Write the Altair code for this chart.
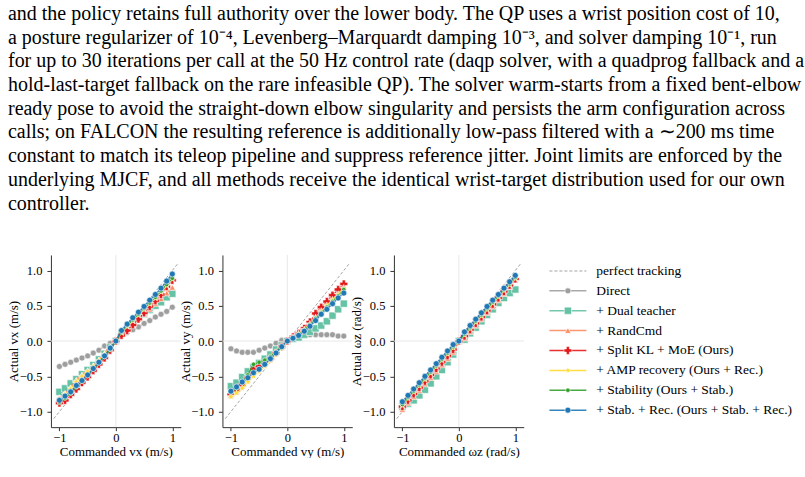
import altair as alt
import pandas as pd

# ---------------- data ----------------
CMD = [round(-1 + 0.1 * i, 1) for i in range(21)]

SERIES = [
    "Direct",
    "+ Dual teacher",
    "+ RandCmd",
    "+ Split KL + MoE (Ours)",
    "+ AMP recovery (Ours + Rec.)",
    "+ Stability (Ours + Stab.)",
    "+ Stab. + Rec. (Ours + Stab. + Rec.)",
]
COLORS = ["#9e9e9e", "#66c2a5", "#fc8d62", "#e31a1c", "#ffd92f", "#33a02c", "#1f78b4"]

STAR = "M0,-1L0.235,-0.324L0.951,-0.309L0.380,0.124L0.588,0.809L0,0.4L-0.588,0.809L-0.380,0.124L-0.951,-0.309L-0.235,-0.324Z"
SHAPES = ["circle", "square", "triangle-up", "cross", STAR, "circle", "circle"]
SIZES = [36, 52, 40, 62, 55, 20, 36]

# Panel 1: commanded vx -> actual vx
VX = [
    [-0.36, -0.33, -0.30, -0.27, -0.24, -0.21, -0.17, -0.13, -0.07, -0.03, 0.0, 0.08, 0.12, 0.16, 0.20, 0.25, 0.29, 0.34, 0.38, 0.42, 0.48],
    [-0.72, -0.67, -0.60, -0.54, -0.47, -0.41, -0.34, -0.26, -0.18, -0.09, 0.0, 0.11, 0.18, 0.25, 0.32, 0.38, 0.44, 0.50, 0.55, 0.62, 0.67],
    [-0.80, -0.74, -0.66, -0.55, -0.48, -0.42, -0.35, -0.27, -0.18, -0.09, 0.0, 0.10, 0.17, 0.24, 0.31, 0.38, 0.45, 0.53, 0.60, 0.68, 0.76],
    [-0.88, -0.84, -0.76, -0.68, -0.59, -0.51, -0.42, -0.33, -0.24, -0.13, 0.0, 0.08, 0.15, 0.23, 0.31, 0.40, 0.49, 0.57, 0.66, 0.77, 0.86],
    [-0.82, -0.76, -0.68, -0.58, -0.50, -0.43, -0.36, -0.28, -0.19, -0.10, 0.0, 0.12, 0.21, 0.29, 0.37, 0.45, 0.53, 0.61, 0.70, 0.79, 0.88],
    [-0.87, -0.81, -0.74, -0.65, -0.57, -0.49, -0.40, -0.31, -0.22, -0.12, 0.0, 0.13, 0.22, 0.30, 0.38, 0.46, 0.54, 0.62, 0.71, 0.80, 0.89],
    [-0.84, -0.78, -0.72, -0.63, -0.56, -0.48, -0.39, -0.30, -0.21, -0.10, 0.0, 0.15, 0.24, 0.33, 0.41, 0.49, 0.58, 0.66, 0.75, 0.85, 0.95],
]

# Panel 2: commanded vy -> actual vy
VY = [
    [-0.11, -0.14, -0.16, -0.16, -0.16, -0.13, -0.10, -0.07, -0.03, 0.01, 0.0, 0.03, 0.06, 0.08, 0.09, 0.09, 0.09, 0.09, 0.09, 0.07, 0.07],
    [-0.64, -0.59, -0.51, -0.43, -0.37, -0.31, -0.25, -0.19, -0.12, -0.06, 0.0, 0.03, 0.05, 0.09, 0.13, 0.18, 0.22, 0.28, 0.36, 0.45, 0.53],
    [-0.77, -0.72, -0.64, -0.55, -0.42, -0.38, -0.32, -0.26, -0.18, -0.09, 0.0, 0.05, 0.10, 0.17, 0.25, 0.34, 0.43, 0.51, 0.60, 0.68, 0.77],
    [-0.76, -0.70, -0.62, -0.52, -0.40, -0.36, -0.31, -0.25, -0.17, -0.08, 0.0, 0.06, 0.11, 0.18, 0.27, 0.39, 0.48, 0.56, 0.65, 0.73, 0.81],
    [-0.79, -0.74, -0.67, -0.58, -0.50, -0.43, -0.36, -0.28, -0.19, -0.10, 0.0, 0.05, 0.10, 0.16, 0.24, 0.33, 0.42, 0.50, 0.58, 0.66, 0.75],
    [-0.73, -0.66, -0.58, -0.48, -0.33, -0.30, -0.27, -0.22, -0.15, -0.07, 0.0, 0.05, 0.09, 0.15, 0.23, 0.32, 0.40, 0.48, 0.56, 0.64, 0.73],
    [-0.71, -0.65, -0.58, -0.52, -0.45, -0.40, -0.33, -0.25, -0.17, -0.08, 0.0, 0.04, 0.08, 0.14, 0.21, 0.29, 0.38, 0.45, 0.53, 0.61, 0.68],
]

# Panel 3: commanded wz -> actual wz
WZ = [
    [-0.86, -0.77, -0.68, -0.59, -0.50, -0.41, -0.32, -0.23, -0.14, -0.05, 0.0, 0.13, 0.22, 0.31, 0.40, 0.49, 0.58, 0.66, 0.75, 0.84, 0.93],
    [-0.93, -0.89, -0.84, -0.77, -0.69, -0.60, -0.50, -0.41, -0.30, -0.19, 0.0, 0.02, 0.11, 0.19, 0.28, 0.37, 0.45, 0.54, 0.61, 0.68, 0.73],
    [-0.97, -0.88, -0.79, -0.70, -0.61, -0.52, -0.43, -0.34, -0.25, -0.16, 0.0, 0.04, 0.13, 0.22, 0.31, 0.40, 0.49, 0.58, 0.67, 0.77, 0.86],
    [-0.93, -0.84, -0.75, -0.66, -0.57, -0.48, -0.39, -0.30, -0.21, -0.12, 0.0, 0.07, 0.16, 0.25, 0.34, 0.43, 0.52, 0.61, 0.70, 0.79, 0.88],
    [-0.91, -0.81, -0.72, -0.63, -0.54, -0.45, -0.36, -0.27, -0.18, -0.09, 0.0, 0.09, 0.18, 0.27, 0.36, 0.45, 0.54, 0.63, 0.72, 0.80, 0.89],
    [-0.90, -0.80, -0.71, -0.62, -0.53, -0.44, -0.35, -0.26, -0.17, -0.08, 0.0, 0.10, 0.19, 0.28, 0.37, 0.46, 0.55, 0.64, 0.73, 0.81, 0.90],
    [-0.86, -0.77, -0.68, -0.59, -0.50, -0.41, -0.32, -0.23, -0.14, -0.05, 0.0, 0.13, 0.22, 0.31, 0.40, 0.49, 0.58, 0.66, 0.75, 0.84, 0.93],
]

DIAG = [-1.1, 1.1]
X_TICKS = [-1, 0, 1]
Y_TICKS = [-1.0, -0.5, 0.0, 0.5, 1.0]

PARAGRAPH = [
    "and the policy retains full authority over the lower body.  The QP uses a wrist position cost of 10,",
    "a posture regularizer of 10\u207b\u2074, Levenberg\u2013Marquardt damping 10\u207b\u00b3, and solver damping 10\u207b\u00b9, run",
    "for up to 30 iterations per call at the 50 Hz control rate (daqp solver, with a quadprog fallback and a",
    "hold-last-target fallback on the rare infeasible QP). The solver warm-starts from a fixed bent-elbow",
    "ready pose to avoid the straight-down elbow singularity and persists the arm configuration across",
    "calls; on FALCON the resulting reference is additionally low-pass filtered with a \u223c200 ms time",
    "constant to match its teleop pipeline and suppress reference jitter.  Joint limits are enforced by the",
    "underlying MJCF, and all methods receive the identical wrist-target distribution used for our own",
    "controller.",
]

FONT = "Liberation Serif"
W, H = 130, 172.4


def panel(series_vals, xtitle, ytitle):
    rows = []
    for s, vals in zip(SERIES, series_vals):
        for c, a in zip(CMD, vals):
            rows.append({"cmd": c, "series": s, "actual": a})
    df = pd.DataFrame(rows)
    xs = alt.Scale(domain=[-1.15, 1.15], nice=False, zero=False)
    ys = alt.Scale(domain=[-1.22, 1.22], nice=False, zero=False)
    xax = alt.Axis(values=X_TICKS, format="d", title=xtitle, grid=False,
                   tickSize=3.5, labelPadding=1, titlePadding=1)
    yax = alt.Axis(values=Y_TICKS, format=".1f", title=ytitle, grid=False,
                   tickSize=4, labelPadding=5, titleX=-30, titleY=H / 2)

    zdf = pd.DataFrame({"z": [0.0]})
    layers = [
        alt.Chart(zdf).mark_rule(color="#e8e8e8", strokeWidth=1).encode(
            x=alt.X("z:Q", scale=xs, axis=xax)),
        alt.Chart(zdf).mark_rule(color="#e8e8e8", strokeWidth=1).encode(
            y=alt.Y("z:Q", scale=ys, axis=yax)),
        alt.Chart(pd.DataFrame({"d": DIAG})).mark_line(
            color="#8c8c8c", strokeDash=[3, 2], strokeWidth=0.8).encode(
            x=alt.X("d:Q", scale=xs, axis=xax), y=alt.Y("d:Q", scale=ys, axis=yax)),
    ]
    for s, c, shp, sz in zip(SERIES, COLORS, SHAPES, SIZES):
        b = alt.Chart(df).transform_filter(alt.datum.series == s)
        enc = dict(x=alt.X("cmd:Q", scale=xs, axis=xax),
                   y=alt.Y("actual:Q", scale=ys, axis=yax))
        layers.append(b.mark_line(color=c, strokeWidth=1.5, opacity=0.9).encode(**enc))
        layers.append(b.mark_point(filled=True, shape=shp, size=sz, color=c, opacity=1,
                                   stroke="white", strokeWidth=0.6).encode(**enc))
    return alt.layer(*layers).properties(width=W, height=H)


p1 = panel(VX, "Commanded vx (m/s)", "Actual vx (m/s)")
p2 = panel(VY, "Commanded vy (m/s)", "Actual vy (m/s)")
p3 = panel(WZ, "Commanded \u03c9z (rad/s)", "Actual \u03c9z (rad/s)")

# ---------------- legend (manual) ----------------
LEG_LABELS = ["perfect tracking"] + SERIES
leg_df = pd.DataFrame({"row": list(range(len(LEG_LABELS))), "label": LEG_LABELS})
ly = alt.Y("row:Q", scale=alt.Scale(domain=[-0.806, 7.856], reverse=True, nice=False, zero=False),
           axis=None)
leg_layers = [
    alt.Chart(leg_df).transform_filter("datum.row == 0").mark_rule(
        color="#8c8c8c", strokeDash=[3, 2], strokeWidth=0.8).encode(
        x=alt.value(-16), x2=alt.value(21), y=ly)
]
for i, (s, c, shp, sz) in enumerate(zip(SERIES, COLORS, SHAPES, SIZES)):
    b = alt.Chart(leg_df).transform_filter(f"datum.row == {i + 1}")
    leg_layers.append(b.mark_rule(color=c, strokeWidth=1.5, opacity=0.9).encode(
        x=alt.value(-16), x2=alt.value(21), y=ly))
    leg_layers.append(b.mark_point(filled=True, shape=shp, size=sz, color=c, opacity=1,
                                   stroke="white", strokeWidth=0.6).encode(
        x=alt.value(2.5), y=ly))
leg_layers.append(alt.Chart(leg_df).mark_text(
    align="left", baseline="middle", font=FONT, fontSize=13.5, color="black").encode(
    x=alt.value(31), y=ly, text="label:N"))
legend = alt.layer(*leg_layers).properties(width=200, height=H)

chart = alt.hconcat(p1, p2, p3, legend, spacing=41.7, bounds="flush").properties(
    title=alt.TitleParams(text=PARAGRAPH, anchor="start", font=FONT, fontSize=20,
                          fontWeight="normal", color="black", lineHeight=23.7, offset=41),
    padding={"left": 8, "top": 3, "right": 0, "bottom": 0},
).configure_view(strokeWidth=0).configure_axis(
    domainColor="#333333", tickColor="#333333", domainWidth=1, tickWidth=1,
    labelFont=FONT, titleFont=FONT, labelFontSize=12.5, titleFontSize=13,
    titleFontWeight="normal", labelColor="black", titleColor="black",
)

chart.save("out.html", embed_options={"renderer": "svg", "actions": False})
